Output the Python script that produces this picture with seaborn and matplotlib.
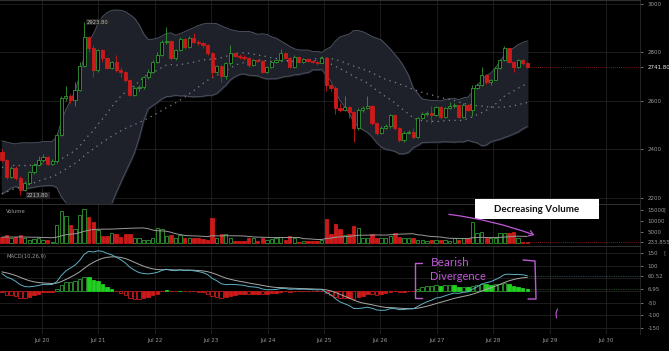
import numpy as np
import pandas as pd
import matplotlib
matplotlib.use("Agg")
import matplotlib.pyplot as plt
import seaborn as sns
from matplotlib.patches import Rectangle, FancyArrowPatch

# ---- price candles (2h bars, Jul 19 - Jul 28) ----
first_open = 2390
closes = [2357, 2287, 2324, 2282, 2233, 2262, 2307, 2336, 2357, 2369,
          2340, 2353, 2460, 2612, 2621, 2604, 2645, 2744, 2864, 2819,
          2728, 2810, 2777, 2736, 2761, 2728, 2720, 2687, 2625, 2654,
          2658, 2699, 2720, 2761, 2790, 2843, 2847, 2777, 2810, 2856,
          2823, 2860, 2843, 2839, 2831, 2798, 2720, 2744, 2703, 2757,
          2798, 2786, 2781, 2777, 2748, 2769, 2765, 2720, 2740, 2761,
          2769, 2798, 2777, 2740, 2781, 2761, 2773, 2765, 2761, 2757,
          2777, 2666, 2654, 2571, 2563, 2575, 2555, 2489, 2563, 2571,
          2579, 2509, 2468, 2489, 2497, 2542, 2489, 2439, 2468, 2472,
          2452, 2530, 2546, 2550, 2542, 2575, 2534, 2571, 2579, 2583,
          2534, 2583, 2563, 2654, 2666, 2707, 2678, 2687, 2736, 2769,
          2819, 2761, 2740, 2769, 2757, 2741.8]
highs = [2400, 2360, 2330, 2330, 2290, 2268, 2312, 2345, 2375, 2380,
         2372, 2360, 2465, 2620, 2660, 2630, 2680, 2760, 2923.8, 2870,
         2830, 2815, 2815, 2780, 2765, 2790, 2740, 2725, 2690, 2660,
         2665, 2705, 2730, 2770, 2800, 2850, 2905, 2850, 2815, 2862,
         2860, 2866, 2880, 2850, 2845, 2835, 2800, 2750, 2750, 2762,
         2830, 2800, 2795, 2790, 2780, 2775, 2772, 2770, 2745, 2765,
         2775, 2815, 2800, 2780, 2790, 2785, 2778, 2775, 2768, 2765,
         2785, 2780, 2670, 2660, 2590, 2620, 2580, 2560, 2570, 2580,
         2620, 2582, 2512, 2495, 2505, 2548, 2545, 2492, 2475, 2480,
         2490, 2535, 2555, 2560, 2580, 2580, 2578, 2576, 2595, 2590,
         2585, 2590, 2586, 2665, 2675, 2740, 2710, 2692, 2740, 2775,
         2825, 2820, 2765, 2775, 2772, 2760]
lows = [2350, 2280, 2282, 2275, 2213.8, 2228, 2258, 2300, 2330, 2350,
        2335, 2335, 2345, 2455, 2600, 2590, 2580, 2640, 2740, 2800,
        2700, 2720, 2760, 2730, 2730, 2720, 2700, 2680, 2620, 2620,
        2640, 2650, 2690, 2715, 2755, 2785, 2835, 2770, 2770, 2805,
        2815, 2818, 2838, 2832, 2820, 2790, 2700, 2715, 2680, 2690,
        2750, 2780, 2775, 2770, 2740, 2745, 2760, 2715, 2715, 2735,
        2755, 2765, 2772, 2735, 2737, 2755, 2755, 2760, 2755, 2750,
        2755, 2640, 2640, 2545, 2555, 2560, 2530, 2430, 2480, 2555,
        2565, 2500, 2460, 2462, 2485, 2490, 2480, 2430, 2432, 2462,
        2445, 2448, 2525, 2540, 2510, 2538, 2525, 2530, 2568, 2570,
        2530, 2530, 2558, 2540, 2650, 2660, 2672, 2665, 2685, 2730,
        2765, 2755, 2720, 2738, 2750, 2738]
volumes = [2900, 3600, 2400, 2900, 3600, 2100, 1400, 1700, 2400, 1400, 1400, 600,
           8200, 14700, 12300, 8200, 6200, 12700, 15300, 11700, 9700, 5900, 3200, 3200,
           4400, 3900, 2900, 4100, 4100, 2400, 2400, 1400, 1400, 2100, 6700, 6200,
           3000, 3600, 2400, 3600, 2100, 2400, 2100, 2100, 1700, 1400, 11200, 2400,
           3900, 4000, 2100, 900, 900, 1000, 2400, 2400, 900, 2400, 1400, 1700,
           2100, 2900, 1400, 3200, 2100, 600, 900, 900, 1000, 900, 1400, 10900,
           3900, 8500, 6400, 3600, 3900, 7700, 6700, 2100, 2400, 3900, 2400, 2100,
           2100, 3300, 4400, 2900, 2400, 2100, 2100, 1400, 1400, 900, 1400, 1400,
           1400, 1400, 1000, 2100, 1400, 2400, 2400, 9700, 4400, 5100, 2400, 2400,
           2400, 4400, 4400, 4400, 4800, 2400, 600, 233.855]

# history before the visible window, estimated so the indicators start right
warmup_closes = [1990, 2000, 2015, 2022, 2035, 2048, 2055, 2070, 2080, 2092,
                 2105, 2113, 2128, 2138, 2150, 2160, 2172, 2185, 2193, 2205,
                 2218, 2226, 2240, 2250, 2262, 2273, 2285, 2296, 2305, 2318,
                 2330, 2340, 2352, 2363, 2374, 2385, 2395, 2400, 2390, 2385]
warmup_volumes = [2600, 3100, 2200, 2800, 3400, 2500, 2000, 2900, 3300, 2400,
                  2100, 2700, 3000, 2300, 2600, 3200, 2500, 2200, 2800]

day_labels = ["Jul 20", "Jul 21", "Jul 22", "Jul 23", "Jul 24", "Jul 25",
              "Jul 26", "Jul 27", "Jul 28", "Jul 29", "Jul 30"]
price_ticks = [3000, 2800, 2741.8, 2600, 2400, 2200]
price_tick_labels = ["3000", "2800", "2741.80", "2600", "2400", "2200"]
vol_ticks = [15000, 10000, 5000, 233.855]
vol_tick_labels = ["15000", "10000", "5000", "233.855"]
macd_ticks = [150, 100, 60.52, 6.95, -50, -100, -150]
macd_tick_labels = ["150", "100", "60.52", "6.95", "-50", "-100", "-150"]

# ---- indicators ----
n = len(closes)
opens = [first_open] + closes[:-1]
days = 0.29 + 0.081 * np.arange(n)

px = pd.Series(warmup_closes + closes)
mid = px.rolling(20).mean()
sd = px.rolling(20).std(ddof=0)
slow = px.rolling(40).mean()
ema10 = px.ewm(span=10, adjust=False).mean()
ema26 = px.ewm(span=26, adjust=False).mean()
macd = ema10 - ema26
signal = macd.ewm(span=9, adjust=False).mean()
vol_ma = pd.Series(warmup_volumes + volumes).rolling(20).mean()

k = len(warmup_closes)
df = pd.DataFrame({
    "day": days,
    "open": opens, "close": closes, "high": highs, "low": lows,
    "volume": volumes,
    "mid": mid.iloc[k:].values,
    "slow": slow.iloc[k:].values,
    "upper": (mid + 2 * sd).iloc[k:].values,
    "lower": (mid - 2 * sd).iloc[k:].values,
    "macd": macd.iloc[k:].values,
    "signal": signal.iloc[k:].values,
    "vol_ma": vol_ma.iloc[len(warmup_volumes):].values,
})
df["hist"] = df["macd"] - df["signal"]
df["up"] = df["close"] >= df["open"]

# ---- style ----
BG = "#000000"
GRID = "#222222"
RED = "#cc1a1a"
GREEN = "#2f9a2f"
BRIGHT_GREEN = "#22d022"
TXT = "#9a9a9a"
PURPLE = "#c058d8"

sns.set_theme(style="dark", rc={
    "axes.facecolor": BG, "figure.facecolor": BG,
    "axes.edgecolor": "#3a3a3a", "xtick.color": TXT, "ytick.color": TXT,
})
plt.rcParams["font.family"] = ["DejaVu Sans"]

W, H = 669, 351
fig = plt.figure(figsize=(W / 100, H / 100), dpi=100)


def panel(top, bottom):
    return fig.add_axes([0, 1 - bottom / H, 640 / W, (bottom - top) / H])


ax_p = panel(0, 203)
ax_v = panel(204, 245)
ax_m = panel(246, 334)

x_left, x_right = 0.2553, 11.603
for ax in (ax_p, ax_v, ax_m):
    ax.set_xlim(x_left, x_right)
    ax.grid(False)
    for d in range(1, 12):
        ax.axvline(d, color=GRID, lw=0.6, zorder=0)
    for s in ("left", "bottom"):
        ax.spines[s].set_visible(False)
    ax.spines["top"].set_color("#3a3a3a")
    ax.spines["right"].set_color("#2a2a2a")
    ax.spines["top"].set_linewidth(0.6)
    ax.spines["right"].set_linewidth(0.6)
    ax.yaxis.tick_right()
    ax.tick_params(axis="y", direction="out", length=2.5, width=0.5, pad=3,
                   labelsize=4, colors=TXT)

# price panel
ax_p.set_ylim(2179.3, 3016.5)
for g in (2200, 2400, 2600, 2800, 3000):
    ax_p.axhline(g, color=GRID, lw=0.6, zorder=0)
ax_p.fill_between(df["day"], df["lower"], df["upper"], color="#1e2129", zorder=1)
ax_p.plot(df["day"], df["upper"], color="#4e5562", lw=0.6, zorder=1)
ax_p.plot(df["day"], df["lower"], color="#4e5562", lw=0.6, zorder=1)
sns.lineplot(data=df, x="day", y="mid", ax=ax_p, color="#80858f", lw=0.9,
             linestyle=(0, (1, 3.5)), zorder=2)
sns.lineplot(data=df, x="day", y="slow", ax=ax_p, color="#80858f", lw=0.9,
             linestyle=(0, (1, 3.5)), zorder=2)

wick_col = np.where(df["up"], GREEN, RED)
face_col = np.where(df["up"], BG, RED)
ax_p.vlines(df["day"], df["low"], df["high"], colors=wick_col, lw=0.6, zorder=3)
body_lo = np.minimum(df["open"], df["close"])
body_h = np.maximum((df["close"] - df["open"]).abs(), 3)
ax_p.bar(df["day"], body_h, bottom=body_lo, width=0.056, color=face_col,
         edgecolor=wick_col, linewidth=0.6, zorder=4)
ax_p.hlines(closes[-1], days[-1], x_right, colors="#a02020", lw=0.6,
            linestyles=(0, (1, 1.5)), zorder=2)
ax_p.text(days[18] + 0.05, 2925, "2923.80", fontsize=3.8, color="#bbbbbb",
          va="center", zorder=5,
          bbox=dict(boxstyle="square,pad=0.15", fc="#222222", ec="none"))
ax_p.text(days[4] + 0.12, 2212, "2213.80", fontsize=3.8, color="#bbbbbb",
          va="center", zorder=5,
          bbox=dict(boxstyle="square,pad=0.15", fc="#222222", ec="none"))
ax_p.set_yticks(price_ticks)
ax_p.set_yticklabels(price_tick_labels)
ax_p.get_yticklabels()[2].set_color("#e8e8e8")
ax_p.set_xticks([])

# volume panel
ax_v.set_ylim(-909, 17727)
ax_v.bar(df["day"], df["volume"], width=0.06, color=face_col,
         edgecolor=wick_col, linewidth=0.6, zorder=3)
sns.lineplot(data=df, x="day", y="vol_ma", ax=ax_v, color="#9a9a9a", lw=0.7, zorder=4)
ax_v.hlines(volumes[-1], days[-1], x_right, colors="#a02020", lw=0.6,
            linestyles=(0, (1, 1.5)), zorder=2)
ax_v.set_yticks(vol_ticks)
ax_v.set_yticklabels(vol_tick_labels)
ax_v.set_xticks([])
ax_v.text(0.01, 0.78, "Volume", transform=ax_v.transAxes, fontsize=3.8, color=TXT)

# MACD panel
ax_m.set_ylim(-174.6, 180.2)
for g in (150, 100, 50, 0, -50, -100, -150):
    ax_m.axhline(g, color=GRID, lw=0.6, zorder=0)
h = df["hist"].values
grow = np.abs(h) >= np.abs(np.r_[h[0], h[:-1]])
pos = h >= 0
edge = np.where(pos, np.where(grow, GREEN, BRIGHT_GREEN), RED)
face = np.where(grow, BG, np.where(pos, BRIGHT_GREEN, RED))
ax_m.bar(df["day"], h, width=0.062, color=face, edgecolor=edge, linewidth=0.6, zorder=3)
sns.lineplot(data=df, x="day", y="signal", ax=ax_m, color="#a8a8a8", lw=0.7, zorder=4)
sns.lineplot(data=df, x="day", y="macd", ax=ax_m, color="#5fb0c4", lw=0.7, zorder=5)
ax_m.hlines(df["macd"].iloc[-1], days[-1], x_right, colors="#4a8090", lw=0.5,
            linestyles=(0, (1, 1.5)), zorder=2)
ax_m.hlines(df["hist"].iloc[-1], days[-1], x_right, colors="#2a8a2a", lw=0.5,
            linestyles=(0, (1, 1.5)), zorder=2)
ax_m.set_yticks(macd_ticks)
ax_m.set_yticklabels(macd_tick_labels)
ax_m.set_xticks(range(1, 12))
ax_m.set_xticklabels(day_labels)
ax_m.tick_params(axis="x", length=0, pad=3, labelsize=4, colors=TXT)
ax_m.text(0.01, 0.86, "MACD(10,26,9)", transform=ax_m.transAxes, fontsize=3.8, color=TXT)
for ax in (ax_p, ax_v, ax_m):
    ax.set_xlabel("")
    ax.set_ylabel("")

# ---- hand-drawn overlay (pixel coordinates) ----
ov = fig.add_axes([0, 0, 1, 1], zorder=10)
ov.set_xlim(0, W)
ov.set_ylim(H, 0)
ov.axis("off")
ov.patch.set_alpha(0)
ov.add_patch(Rectangle((475, 199), 124, 20, fc="white", ec="none"))
ov.text(537, 209.5, "Decreasing Volume", ha="center", va="center", fontsize=7,
        family=["Lato", "DejaVu Sans"], weight="bold", color="#111111")
ov.add_patch(FancyArrowPatch((446, 214), (537, 236), connectionstyle="arc3,rad=-0.06",
                             arrowstyle="->,head_length=3,head_width=2",
                             color=PURPLE, lw=0.9))
ov.plot([422, 415, 415, 422], [263, 263, 298, 298], color=PURPLE, lw=1)
ov.plot([523, 535, 536, 528], [260, 261, 299, 299], color=PURPLE, lw=1)
ov.plot([557.5, 556, 556.5], [309, 313, 318], color=PURPLE, lw=0.8)
ov.text(431, 263, "Bearish", fontsize=8.5, color=PURPLE, va="center",
        family=["Lato", "DejaVu Sans"])
ov.text(430, 277, "Divergence", fontsize=8, color=PURPLE, va="center",
        family=["Lato", "DejaVu Sans"])
ov.text(664, 210, "[", fontsize=4.5, color="#777777", va="center")
ov.text(664, 253, "[", fontsize=4.5, color="#777777", va="center")

fig.savefig("out.png", dpi=100, facecolor=BG)
